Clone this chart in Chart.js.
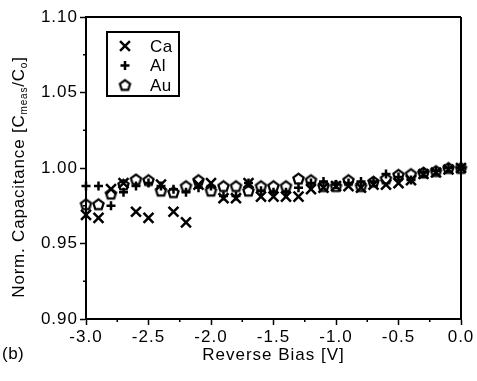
<!DOCTYPE html>
<html>
<head>
<meta charset="utf-8">
<script src="https://cdn.jsdelivr.net/npm/chart.js@4.4.0/dist/chart.umd.min.js"></script>
<style>
  html, body { margin: 0; padding: 0; background: #fff; }
  #wrap { width: 477px; height: 381px; position: relative; }
</style>
</head>
<body>
<div id="wrap"><canvas id="chart_cv"></canvas></div>
<script>
// reverse bias [V]
const bias = [-3.0, -2.9, -2.8, -2.7, -2.6, -2.5, -2.4, -2.3, -2.2, -2.1, -2.0,
              -1.9, -1.8, -1.7, -1.6, -1.5, -1.4, -1.3, -1.2, -1.1, -1.0,
              -0.9, -0.8, -0.7, -0.6, -0.5, -0.4, -0.3, -0.2, -0.1, 0.0];

// normalised capacitance per contact metal
const ca = [0.969, 0.967, 0.986, 0.990, 0.971, 0.967, 0.989, 0.971, 0.964, 0.989, 0.990,
            0.980, 0.980, 0.990, 0.981, 0.981, 0.981, 0.981, 0.986, 0.987, 0.988,
            0.988, 0.987, 0.989, 0.989, 0.990, 0.992, 0.996, 0.997, 0.999, 1.000];
const al = [0.988, 0.988, 0.975, 0.984, 0.988, 0.990, 0.988, 0.986, 0.984, 0.987, 0.988,
            0.9815, 0.9815, 0.990, 0.985, 0.984, 0.984, 0.987, 0.990, 0.991, 0.989,
            0.990, 0.991, 0.991, 0.996, 0.994, 0.992, 0.997, 0.998, 1.000, 1.000];
const au = [0.976, 0.976, 0.983, 0.989, 0.9925, 0.992, 0.985, 0.984, 0.988, 0.992, 0.985,
            0.988, 0.988, 0.985, 0.988, 0.988, 0.988, 0.993, 0.992, 0.988, 0.988,
            0.992, 0.988, 0.991, 0.993, 0.9955, 0.996, 0.997, 0.998, 1.000, 1.000];

const names = ['Ca', 'Al', 'Au'];
const xMinor = [-2.75, -2.25, -1.75, -1.25, -0.75, -0.25];
const yMinor = [0.925, 0.975, 1.025, 1.075];

function pts(ys) {
  return bias.map((x, i) => ({ x: x, y: ys[i] }));
}

// open pentagon marker
const pent = document.createElement('canvas');
pent.width = 15; pent.height = 15;
(function () {
  const c = pent.getContext('2d');
  c.strokeStyle = '#000';
  c.lineWidth = 2.2;
  c.beginPath();
  for (let k = 0; k < 5; k++) {
    const a = -Math.PI / 2 + k * 2 * Math.PI / 5;
    const px = 7.5 + 5.4 * Math.cos(a), py = 8 + 5.4 * Math.sin(a);
    if (k === 0) c.moveTo(px, py); else c.lineTo(px, py);
  }
  c.closePath();
  c.stroke();
})();

const styles = [
  { pointStyle: 'crossRot', radius: 7 },
  { pointStyle: 'cross', radius: 4.5 },
  { pointStyle: pent, radius: 6 }
];

const FONT = '"Liberation Sans", Arial, sans-serif';

const frame = {
  id: 'frame',
  beforeDraw(chart) {
    chart.ctx.letterSpacing = '1px';
  },
  afterDraw(chart) {
    const ctx = chart.ctx;
    const a = chart.chartArea;
    const sx = chart.scales.x, sy = chart.scales.y;
    ctx.save();
    ctx.strokeStyle = '#000';
    ctx.lineWidth = 2;
    ctx.beginPath();
    ctx.moveTo(a.left, a.top); ctx.lineTo(a.right, a.top);
    ctx.moveTo(a.right, a.top); ctx.lineTo(a.right, a.bottom);
    ctx.stroke();
    // minor ticks
    ctx.lineWidth = 1.5;
    ctx.beginPath();
    xMinor.forEach(v => {
      const px = sx.getPixelForValue(v);
      ctx.moveTo(px, a.bottom); ctx.lineTo(px, a.bottom + 3);
    });
    yMinor.forEach(v => {
      const py = sy.getPixelForValue(v);
      ctx.moveTo(a.left - 3, py); ctx.lineTo(a.left, py);
    });
    ctx.stroke();

    // legend
    ctx.lineWidth = 2;
    ctx.strokeRect(107, 32, 72, 64);
    ctx.fillStyle = '#000';
    ctx.font = '17px ' + FONT;
    ctx.letterSpacing = '0.5px';
    ctx.textBaseline = 'middle';
    ctx.textAlign = 'left';
    names.forEach((n, i) => {
      const yy = 46 + i * 19.5;
      ctx.lineWidth = 2.5;
      Chart.helpers.drawPoint(ctx, {
        pointStyle: styles[i].pointStyle, radius: styles[i].radius,
        rotation: 0, borderWidth: 2.5
      }, 125, yy);
      ctx.fillText(n, 150, yy + 1);
    });

    // y title with subscripts
    ctx.letterSpacing = '0.8px';
    ctx.translate(19, 177);
    ctx.rotate(-Math.PI / 2);
    const big = '17px ' + FONT;
    const small = '10px ' + FONT;
    const parts = [
      ['Norm. Capacitance [C', big, 0],
      ['meas', small, 5],
      ['/C', big, 0],
      ['o', small, 5],
      [']', big, 0]
    ];
    let total = 0;
    parts.forEach(p => { ctx.font = p[1]; total += ctx.measureText(p[0]).width; });
    let cx = -total / 2;
    parts.forEach(p => {
      ctx.font = p[1];
      ctx.fillText(p[0], cx, p[2]);
      cx += ctx.measureText(p[0]).width;
    });
    ctx.restore();

    // panel label
    ctx.save();
    ctx.fillStyle = '#000';
    ctx.letterSpacing = '0.5px';
    ctx.font = '17px ' + FONT;
    ctx.textBaseline = 'middle';
    ctx.fillText('(b)', 2, 354);
    ctx.restore();
  }
};

const datasets = names.map((n, i) => ({
  label: n,
  data: pts([ca, al, au][i]),
  showLine: false,
  pointStyle: styles[i].pointStyle,
  pointRadius: styles[i].radius,
  pointBorderWidth: 2.5,
  pointBorderColor: '#000',
  pointBackgroundColor: 'rgba(0,0,0,0)',
  clip: false
}));

const tickFont = { family: FONT, size: 17 };

const config = {
  type: 'scatter',
  data: { datasets: datasets },
  options: {
    responsive: true,
    maintainAspectRatio: false,
    animation: false,
    events: [],
    layout: { padding: { left: 0, top: 17, right: 16, bottom: 0 } },
    plugins: {
      legend: { display: false },
      tooltip: { enabled: false }
    },
    scales: {
      x: {
        type: 'linear',
        min: -3, max: 0,
        afterFit(s) { s.height = 62; },
        grid: { drawOnChartArea: false, drawTicks: true, tickLength: 6, tickColor: '#000', tickWidth: 1.5 },
        border: { display: true, color: '#000', width: 2 },
        ticks: {
          stepSize: 0.5, color: '#000', font: tickFont, padding: 2, maxRotation: 0,
          callback: v => Number(v).toFixed(1)
        },
        title: {
          display: true, text: 'Reverse Bias [V]', color: '#000',
          font: tickFont, padding: { top: 0, bottom: 15 }
        }
      },
      y: {
        type: 'linear',
        min: 0.9, max: 1.1,
        afterFit(s) { s.width = 86; },
        grid: { drawOnChartArea: false, drawTicks: true, tickLength: 6, tickColor: '#000', tickWidth: 1.5 },
        border: { display: true, color: '#000', width: 2 },
        ticks: {
          stepSize: 0.05, color: '#000', font: tickFont, padding: 2,
          callback: v => Number(v).toFixed(2)
        }
      }
    }
  },
  plugins: [frame]
};

var myChart = new Chart(document.getElementById('chart_cv'), config);
</script>
</body>
</html>
